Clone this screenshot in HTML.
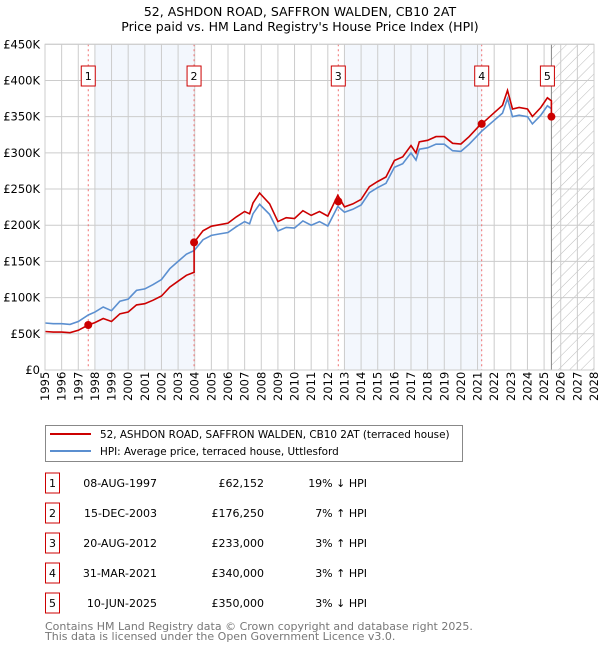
<!DOCTYPE html>
<html><head><meta charset="utf-8"><style>
body{margin:0;background:#fff;font-family:"DejaVu Sans","Liberation Sans",sans-serif;}
svg text{font-family:"DejaVu Sans","Liberation Sans",sans-serif;}
</style></head><body>
<svg id="chart" width="600" height="650" xmlns="http://www.w3.org/2000/svg">
<defs><pattern id="hatch" width="8" height="8" patternUnits="userSpaceOnUse" patternTransform="rotate(45)"><line x1="0" y1="0" x2="0" y2="8" stroke="#bbb" stroke-width="1"/></pattern></defs>
<text x="300" y="16" text-anchor="middle" font-size="12.5">52, ASHDON ROAD, SAFFRON WALDEN, CB10 2AT</text>
<text x="300" y="31" text-anchor="middle" font-size="12.5">Price paid vs. HM Land Registry's House Price Index (HPI)</text>
<g id="plot"></g>
<g>
<rect x="45.5" y="425.5" width="417" height="36" fill="#fff" stroke="#888"/>
<line x1="50" y1="434" x2="91" y2="434" stroke="#cc0000" stroke-width="2"/>
<text x="100" y="438" font-size="10.4">52, ASHDON ROAD, SAFFRON WALDEN, CB10 2AT (terraced house)</text>
<line x1="50" y1="451" x2="91" y2="451" stroke="#5b8fd0" stroke-width="2"/>
<text x="100" y="455" font-size="10.4">HPI: Average price, terraced house, Uttlesford</text>
</g>
<g id="table"></g>
<text x="45" y="630" font-size="11" fill="#777">Contains HM Land Registry data © Crown copyright and database right 2025.</text>
<text x="45" y="640" font-size="11" fill="#777">This data is licensed under the Open Government Licence v3.0.</text>
</svg>
<script>
const yearTicks=[1995,1996,1997,1998,1999,2000,2001,2002,2003,2004,2005,2006,2007,2008,2009,2010,2011,2012,2013,2014,2015,2016,2017,2018,2019,2020,2021,2022,2023,2024,2025,2026,2027,2028];
const yTicks=[0,50,100,150,200,250,300,350,400,450];
const yTickLabels=["£0","£50K","£100K","£150K","£200K","£250K","£300K","£350K","£400K","£450K"];
const hpiDates=[1995.0,1995.5,1996.0,1996.5,1997.0,1997.6,1998.0,1998.5,1999.0,1999.5,2000.0,2000.5,2001.0,2001.5,2002.0,2002.5,2003.0,2003.5,2003.96,2004.5,2005.0,2005.5,2006.0,2006.5,2007.0,2007.3,2007.5,2007.9,2008.5,2009.0,2009.5,2010.0,2010.5,2011.0,2011.5,2012.0,2012.6,2013.0,2013.5,2014.0,2014.5,2015.0,2015.5,2016.0,2016.5,2017.0,2017.3,2017.5,2018.0,2018.5,2019.0,2019.5,2020.0,2020.5,2021.25,2021.5,2022.0,2022.5,2022.8,2023.1,2023.5,2024.0,2024.3,2024.8,2025.2,2025.44];
const hpiValues=[65,64,64,63,67,76,80,87,82,95,98,110,112,118,125,140,150,160,165,180,186,188,190,198,205,202,216,229,215,192,197,196,206,200,205,199,226,218,222,228,245,252,258,280,285,300,290,305,307,312,312,303,302,312,330,335,345,355,375,350,352,350,340,352,365,361];
const saleDates=[1997.6,2003.96,2012.63,2021.25,2025.44];
const salePrices=[62.152,176.25,233,340,350];
const saleLabels=["08-AUG-1997","15-DEC-2003","20-AUG-2012","31-MAR-2021","10-JUN-2025"];
const salePriceText=["£62,152","£176,250","£233,000","£340,000","£350,000"];
const saleDiffText=["19% ↓ HPI","7% ↑ HPI","3% ↑ HPI","3% ↑ HPI","3% ↓ HPI"];

const X0=45,X1=594,Y0=370,Y1=44.3;
const xs=t=>X0+(t-1995)/(2028-1995)*(X1-X0);
const ys=v=>Y0-v/450*(Y0-Y1);
const NS="http://www.w3.org/2000/svg";
const plot=document.getElementById('plot');
function mk(tag,attrs,parent){const e=document.createElementNS(NS,tag);for(const k in attrs)e.setAttribute(k,attrs[k]);(parent||plot).appendChild(e);return e;}
function hpiAt(t){if(t<=hpiDates[0])return hpiValues[0];for(let i=1;i<hpiDates.length;i++){if(t<=hpiDates[i]){const f=(t-hpiDates[i-1])/(hpiDates[i]-hpiDates[i-1]);return hpiValues[i-1]+f*(hpiValues[i]-hpiValues[i-1]);}}return hpiValues[hpiValues.length-1];}

let b1=mk('rect',{x:xs(1998),y:Y1,width:xs(saleDates[1])-xs(1998),height:Y0-Y1,fill:'#eef3fc',opacity:0.7});

let b2=mk('rect',{x:xs(2013),y:Y1,width:xs(saleDates[3])-xs(2013),height:Y0-Y1,fill:'#eef3fc',opacity:0.7});

let hz=mk('rect',{x:xs(saleDates[4]),y:Y1,width:X1-xs(saleDates[4]),height:Y0-Y1,fill:'url(#hatch)'});

yearTicks.forEach(y=>{let l=mk('line',{x1:xs(y),x2:xs(y),y1:Y1,y2:Y0,stroke:'#ccc','stroke-width':1});

let t=mk('text',{x:0,y:0,transform:`translate(${xs(y)+4},${Y0+31}) rotate(-90)`,'font-size':11.5});t.textContent=y;
});
yTicks.forEach((v,i)=>{let l=mk('line',{x1:X0,x2:X1,y1:ys(v),y2:ys(v),stroke:'#ccc','stroke-width':1});

let t=mk('text',{x:40,y:ys(v)+4,'text-anchor':'end','font-size':11.5});t.textContent=yTickLabels[i];
});
saleDates.forEach((d,i)=>{let l=mk('line',{x1:xs(d),x2:xs(d),y1:Y1,y2:Y0,stroke:i==4?'#888':'#f07070','stroke-width':1,'stroke-dasharray':i==4?'':'2,3'});

let bx=xs(d)-(i==4?11:7);
let r=mk('rect',{x:bx,y:66,width:14,height:20,fill:'#fff',stroke:'#cc0000'});

let t=mk('text',{x:bx+7,y:80,'text-anchor':'middle','font-size':11});t.textContent=i+1;
});
let hp=hpiDates.map((d,i)=>(i?'L':'M')+xs(d).toFixed(1)+','+ys(hpiValues[i]).toFixed(1)).join('');
let hl=mk('path',{d:hp,fill:'none',stroke:'#5b8fd0','stroke-width':1.6});

const factors=saleDates.map((d,i)=>salePrices[i]/hpiAt(d));
let pts=[];
hpiDates.forEach((d,i)=>{let k=0;for(let j=0;j<saleDates.length;j++)if(d>=saleDates[j]-0.001)k=j;
 if(d<saleDates[0])k=0;
 pts.push([d,hpiValues[i]*factors[k]]);
 saleDates.forEach((sd,j)=>{if(j>0&&Math.abs(sd-d)<0.01){pts[pts.length-1]=[d,hpiValues[i]*factors[j-1]];pts.push([d,salePrices[j]]);}});});
let pp=pts.map((p,i)=>(i?'L':'M')+xs(p[0]).toFixed(1)+','+ys(p[1]).toFixed(1)).join('');
let pl=mk('path',{d:pp,fill:'none',stroke:'#cc0000','stroke-width':1.6});

saleDates.forEach((d,i)=>{let c=mk('circle',{cx:xs(d),cy:ys(salePrices[i]),r:4,fill:'#cc0000'});
});
let ax=mk('rect',{x:X0,y:Y1,width:X1-X0,height:Y0-Y1,fill:'none',stroke:'#ccc'});

const tb=document.getElementById('table');
saleLabels.forEach((lab,i)=>{const cy=483+i*30;
let r=mk('rect',{x:45.5,y:cy-10,width:14,height:20,fill:'#fff',stroke:'#cc0000'},tb);

let n=mk('text',{x:52.5,y:cy+4,'text-anchor':'middle','font-size':11},tb);n.textContent=i+1;

let a=mk('text',{x:157,y:cy+4,'text-anchor':'end','font-size':11},tb);a.textContent=lab;

let b=mk('text',{x:264,y:cy+4,'text-anchor':'end','font-size':11},tb);b.textContent=salePriceText[i];

let c=mk('text',{x:367,y:cy+4,'text-anchor':'end','font-size':11},tb);c.textContent=saleDiffText[i];
});
</script>
</body></html>
